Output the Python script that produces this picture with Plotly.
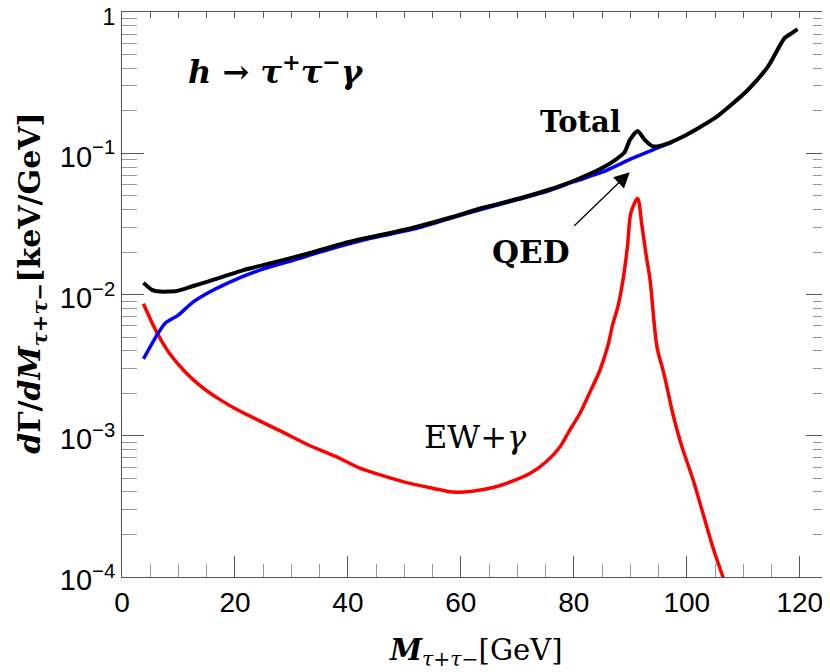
import plotly.graph_objects as go

# EW + gamma 曲线 (红)
ew_x = [3.8, 5.25, 6.43, 8.2, 11.15, 14.1, 17, 20, 22.95, 25.9, 28.3, 33.3, 38, 42.1, 46, 51,
        55, 58.6, 62, 65.7, 69, 72.2, 75, 77.5, 79, 81.1, 83, 84.6, 86, 86.9, 87.8, 88.7,
        89.5, 90.1, 91.3, 92.0, 92.8, 93.5, 94.7, 96, 97.5, 99, 101.1, 103, 104.6, 106.4, 107]
ew_y = [8.6e-3, 6.4e-3, 5.16e-3, 3.94e-3, 2.84e-3, 2.22e-3, 1.84e-3, 1.56e-3, 1.36e-3,
        1.19e-3, 1.07e-3, 8.5e-4, 7.1e-4, 5.9e-4, 5.25e-4, 4.6e-4, 4.25e-4, 4.0e-4, 4.05e-4,
        4.3e-4, 4.75e-4, 5.4e-4, 6.5e-4, 8.3e-4, 1.05e-3, 1.45e-3, 2.1e-3, 2.9e-3, 4.3e-3,
        6.2e-3, 8.2e-3, 1.27e-2, 2.2e-2, 3.8e-2, 4.8e-2, 3.2e-2, 1.9e-2, 1.27e-2, 4.3e-3,
        2.7e-3, 1.45e-3, 8.7e-4, 4.9e-4, 2.7e-4, 1.63e-4, 1.0e-4, 8.5e-5]

# QED 曲线 (蓝)
qed_x = [3.8, 5.84, 7.6, 9.97, 12.3, 14.7, 18.6, 24.4, 30.3, 36.3, 44, 52, 58, 64, 70, 75.4,
         80, 85, 90.3, 94, 97.5]
qed_y = [3.5e-3, 4.9e-3, 6.25e-3, 7.16e-3, 8.67e-3, 1.0e-2, 1.2e-2, 1.49e-2, 1.75e-2,
         2.07e-2, 2.5e-2, 2.93e-2, 3.45e-2, 4.05e-2, 4.7e-2, 5.4e-2, 6.3e-2, 7.35e-2, 9.2e-2,
         1.06e-1, 1.2e-1]

# Total 曲线 (黑)
tot_x = [3.8, 5.3, 6.7, 9.7, 12.6, 15.6, 21.5, 27.4, 33.3, 40, 46, 51.9, 58, 63.7, 70, 75.4,
         80, 85, 87.3, 89, 89.9, 91.3, 92.6, 94, 95.6, 99.1, 105, 110.8, 114.3, 117.3,
         118.6, 119.6]
tot_y = [1.21e-2, 1.08e-2, 1.05e-2, 1.06e-2, 1.15e-2, 1.25e-2, 1.49e-2, 1.71e-2, 1.97e-2,
         2.35e-2, 2.65e-2, 3.0e-2, 3.5e-2, 4.1e-2, 4.75e-2, 5.5e-2, 6.4e-2, 7.87e-2, 8.96e-2,
         1.02e-1, 1.24e-1, 1.44e-1, 1.24e-1, 1.12e-1, 1.14e-1, 1.30e-1, 1.78e-1, 2.81e-1,
         4.08e-1, 6.54e-1, 7.1e-1, 7.58e-1]

# 刻度
x_major = [0, 20, 40, 60, 80, 100, 120]
x_minor = [5, 10, 15, 25, 30, 35, 45, 50, 55, 65, 70, 75, 85, 90, 95, 105, 110, 115, 125]
y_major = [1e-4, 1e-3, 1e-2, 1e-1, 1]
y_labels = ["10<sup>−4</sup>", "10<sup>−3</sup>", "10<sup>−2</sup>", "10<sup>−1</sup>",
            "<span style='font-size:23px'>1</span>"]
y_minor = [k * 10.0 ** e for e in range(-4, 0) for k in range(2, 10)]

serif = "DejaVu Serif"
sans = "Liberation Sans"
frame = "#555555"

fig = go.Figure()

fig.add_trace(go.Scatter(x=ew_x, y=ew_y, mode="lines", showlegend=False,
                         line=dict(color="#ff0000", width=3.5, shape="spline", smoothing=0.8)))
fig.add_trace(go.Scatter(x=qed_x, y=qed_y, mode="lines", showlegend=False,
                         line=dict(color="#0000ff", width=3.5, shape="spline", smoothing=0.6)))
fig.add_trace(go.Scatter(x=tot_x, y=tot_y, mode="lines", showlegend=False,
                         line=dict(color="#000000", width=4, shape="spline", smoothing=0.6)))
# 右侧和顶部的框线刻度
fig.add_trace(go.Scatter(x=[None], y=[None], xaxis="x2", yaxis="y2", showlegend=False))

# 页面 body 有 8px 边距, 图整体缩小 8px
fig.update_layout(
    width=822, height=664,
    margin=dict(l=114, r=2, t=4, b=95),
    plot_bgcolor="white", paper_bgcolor="white",
    xaxis=dict(
        range=[0, 125], showgrid=False, zeroline=False, automargin=False,
        showline=True, linecolor=frame, linewidth=1,
        tickmode="array", tickvals=x_major, ticks="inside", ticklen=21, tickcolor=frame,
        tickfont=dict(family=sans, size=28, color="black"),
        minor=dict(tickmode="array", tickvals=x_minor, ticks="inside", ticklen=13,
                   tickcolor="#999999"),
    ),
    xaxis2=dict(
        range=[0, 125], overlaying="x", side="top", showgrid=False, zeroline=False,
        automargin=False, showline=True, linecolor=frame, linewidth=1,
        tickmode="linear", tick0=0, dtick=5, ticks="inside", ticklen=6, tickcolor=frame,
        showticklabels=False,
    ),
    yaxis=dict(
        type="log", range=[-4, 0.001], showgrid=False, zeroline=False, automargin=False,
        showline=True, linecolor=frame, linewidth=1,
        tickmode="array", tickvals=y_major, ticktext=y_labels,
        ticks="inside", ticklen=22, tickcolor=frame, ticklabeloverflow="allow",
        ticklabelshift=3,
        tickfont=dict(family=sans, size=29, color="black"),
        minor=dict(tickmode="array", tickvals=y_minor, ticks="inside", ticklen=15,
                   tickcolor="#999999"),
    ),
    yaxis2=dict(
        type="log", range=[-4, 0.001], overlaying="y", side="right", showgrid=False,
        zeroline=False, automargin=False, showline=True, linecolor=frame, linewidth=1,
        tickmode="array", tickvals=y_major, ticks="inside", ticklen=22, tickcolor=frame,
        showticklabels=False,
        minor=dict(tickmode="array", tickvals=y_minor, ticks="inside", ticklen=15,
                   tickcolor="#999999"),
    ),
)

# 坐标轴标题
fig.add_annotation(
    xref="paper", yref="paper", x=-0.1586, y=0.52, showarrow=False, textangle=-90,
    xanchor="left", yanchor="middle",
    text="<b><i>d</i>Γ/<i>dM</i><sub><i>τ</i>+<i>τ</i>−</sub>[keV/GeV]</b>",
    font=dict(family=serif, size=30, color="black"),
)
fig.add_annotation(
    xref="paper", yref="paper", x=0.5, y=-0.133, showarrow=False,
    xanchor="center", yanchor="middle",
    text="<b><i>M</i></b><sub><i>τ</i>+<i>τ</i>−</sub>[GeV]",
    font=dict(family=serif, size=29, color="black"),
)

# 图中文字
fig.add_annotation(
    xref="paper", yref="paper", x=0.218, y=0.897, showarrow=False,
    xanchor="center", yanchor="middle",
    text="<b><i>h</i> → <i>τ</i><sup>+</sup><i>τ</i><sup>−</sup><i>γ</i></b>",
    font=dict(family=serif, size=32, color="black"),
)
fig.add_annotation(xref="paper", yref="paper", x=0.650, y=0.805, showarrow=False,
                   xanchor="center", yanchor="middle",
                   text="<b>Total</b>", font=dict(family=serif, size=29, color="black"))
fig.add_annotation(xref="paper", yref="paper", x=0.579, y=0.575, showarrow=False,
                   xanchor="center", yanchor="middle",
                   text="<b>QED</b>", font=dict(family=serif, size=31, color="black"))
fig.add_annotation(xref="paper", yref="paper", x=0.501, y=0.248, showarrow=False,
                   xanchor="center", yanchor="middle",
                   text="EW+<i>γ</i>", font=dict(family=serif, size=32, color="black"))

# QED 箭头
fig.add_annotation(x=89.9, y=-1.133, xref="x", yref="y", text="", showarrow=True,
                   ax=-57, ay=55, arrowhead=2, arrowsize=2.4, arrowwidth=1.3,
                   arrowcolor="black")

fig.write_html("out.html")
